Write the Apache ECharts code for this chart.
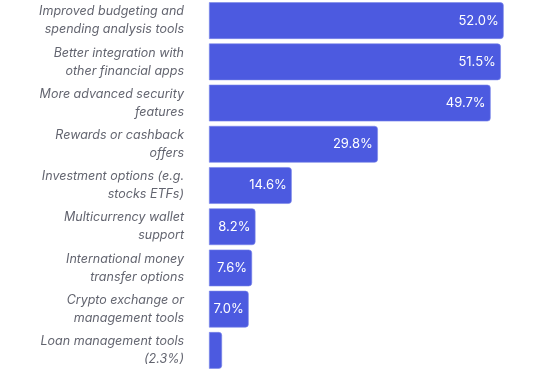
<!DOCTYPE html>
<html><head><meta charset="utf-8">
<script src="https://cdn.jsdelivr.net/npm/echarts@6/dist/echarts.min.js"></script>
<style>html,body{margin:0;padding:0;background:#fff}#c{width:550px;height:371px}</style>
</head><body><div id="c"></div>
<script>
const categories = [
  "Improved budgeting and\nspending analysis tools",
  "Better integration with\nother financial apps",
  "More advanced security\nfeatures",
  "Rewards or cashback\noffers",
  "Investment options (e.g.\nstocks ETFs)",
  "Multicurrency wallet\nsupport",
  "International money\ntransfer options",
  "Crypto exchange or\nmanagement tools",
  "Loan management tools\n(2.3%)"
];
const values = [52.0, 51.5, 49.7, 29.8, 14.6, 8.2, 7.6, 7.0, 2.3];
const showLabel = [true, true, true, true, true, true, true, true, false];

const chart = echarts.init(document.getElementById('c'));
chart.setOption({
  animation: false,
  grid: {left: 209, right: 1, top: -1, bottom: -2, containLabel: false},
  xAxis: {type: 'value', min: 0, max: 60, show: false},
  yAxis: {
    type: 'category', data: categories, inverse: true,
    axisLine: {show: false}, axisTick: {show: false},
    axisLabel: {
      margin: 25, align: 'right', fontStyle: 'italic', fontSize: 12.5,
      lineHeight: 18, color: '#62646f', fontFamily: 'Inter, "Noto Sans", sans-serif'
    }
  },
  series: [{
    type: 'bar', barCategoryGap: '11%',
    data: values.map((v, i) => ({value: v, label: {show: showLabel[i]}})),
    itemStyle: {color: '#4c5ae0', borderRadius: [0, 3, 3, 0], borderColor: '#7b86ea', borderWidth: 0.6},
    label: {
      position: 'insideRight', distance: 5, color: '#ffffff', fontSize: 13,
      fontFamily: 'Inter, "Noto Sans", sans-serif',
      formatter: p => p.value.toFixed(1) + '%'
    }
  }]
});
</script></body></html>
